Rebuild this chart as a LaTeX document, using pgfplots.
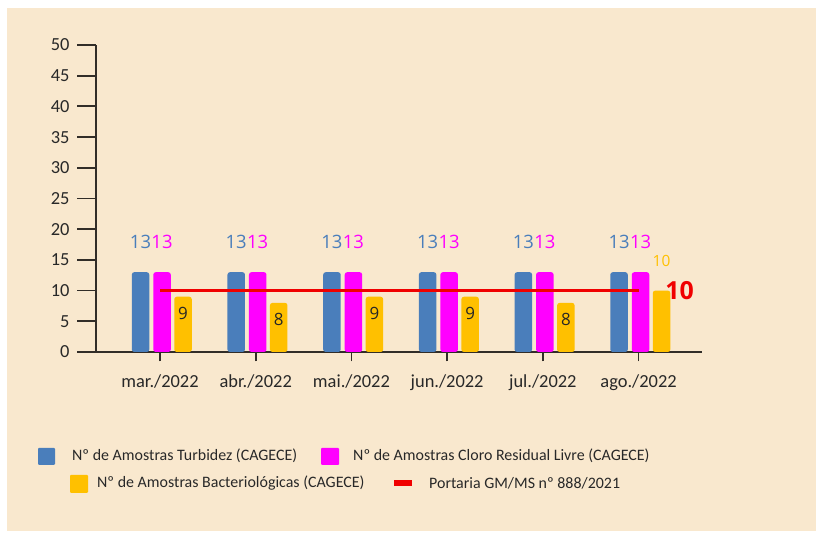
\documentclass[border=0pt]{standalone}
\usepackage{fontspec}
\setmainfont{Carlito}
\newfontfamily\opensans{Open Sans}
\usepackage{pgfplots}
\pgfplotsset{compat=1.18}
\definecolor{bg}{RGB}{249,232,206}
\definecolor{cblue}{RGB}{74,126,187}
\definecolor{cmag}{RGB}{255,0,255}
\definecolor{cyel}{RGB}{255,192,0}
\definecolor{cred}{RGB}{240,0,0}
\definecolor{axc}{RGB}{50,45,40}
\definecolor{txt}{RGB}{40,40,40}
\begin{document}
\begin{tikzpicture}[x=1bp,y=1bp]
\fill[white] (0,0) rectangle (822,535);
\fill[bg] (7,4) rectangle (816,527);
\begin{axis}[
  at={(96bp,183bp)}, anchor=south west,
  width=606bp, height=307bp, scale only axis,
  xmin=-0.669, xmax=5.663, ymin=0, ymax=50,
  axis x line=bottom, axis y line=left,
  axis line style={axc, line width=2bp, -},
  every tick/.style={axc, line width=1.8bp},
  major tick length=19bp,
  xtick align=center, ytick align=outside,
  xtick={0,...,5},
  xticklabels={mar./2022, abr./2022, mai./2022, jun./2022, jul./2022, ago./2022},
  ytick={0,5,...,50},
  /pgf/number format/assume math mode=true,
  yticklabel style={font=\fontsize{18.5}{20}\selectfont, text=txt, xshift=-4bp},
  xticklabel style={font=\fontsize{18.5}{20}\selectfont, text=txt, yshift=-10bp},
  clip=false,
]
% Turbidez
\addplot[ybar, bar width=17.5bp, bar shift=-19.5bp, fill=cblue, draw=none, rounded corners=2.5bp,
  nodes near coords,
  every node near coord/.append style={anchor=center, xshift=-19.5bp, yshift=30bp, text=cblue, font=\opensans\fontsize{18.5}{18.5}\selectfont}]
  coordinates {(0,13) (1,13) (2,13) (3,13) (4,13) (5,13)};
% Cloro
\addplot[ybar, bar width=17.5bp, bar shift=2bp, fill=cmag, draw=none, rounded corners=2.5bp,
  nodes near coords,
  every node near coord/.append style={anchor=center, xshift=2bp, yshift=30bp, text=cmag, font=\opensans\fontsize{18.5}{18.5}\selectfont}]
  coordinates {(0,13) (1,13) (2,13) (3,13) (4,13) (5,13)};
% Bacteriologicas
\addplot[ybar, bar width=17.5bp, bar shift=23bp, fill=cyel, draw=none, rounded corners=2.5bp,
  nodes near coords,
  every node near coord/.append style={anchor=center, xshift=23bp, yshift=-17bp, text=black!85, font=\opensans\fontsize{17}{17}\selectfont}]
  coordinates {(0,9) (1,8) (2,9) (3,9) (4,8)};
\addplot[ybar, bar width=17.5bp, bar shift=23bp, fill=cyel, draw=none, rounded corners=2.5bp,
  nodes near coords,
  every node near coord/.append style={anchor=center, xshift=23bp, yshift=29.5bp, text=cyel, font=\opensans\fontsize{15.5}{15.5}\selectfont}]
  coordinates {(5,10)};
% Portaria
\addplot[cred, line width=3bp, mark=none] coordinates {(0,10) (5,10)}
  node[pos=1, anchor=west, xshift=22bp, text=cred, font=\opensans\bfseries\fontsize{25}{25}\selectfont] {10};
\end{axis}
% legend
\begin{scope}[every node/.style={anchor=west, inner sep=0pt, text=txt, font=\fontsize{16}{17}\selectfont}]
\fill[cblue, rounded corners=1bp] (38,70) rectangle (55,87);
\node at (72,79) {Nº de Amostras Turbidez (CAGECE)};
\fill[cmag, rounded corners=1bp] (321,70) rectangle (339,87);
\node at (353,79) {Nº de Amostras Cloro Residual Livre (CAGECE)};
\fill[cyel, rounded corners=1bp] (70,42) rectangle (88,60);
\node at (97,52) {Nº de Amostras Bacteriológicas (CAGECE)};
\fill[cred] (394,49) rectangle (412,55);
\node at (429,52) {Portaria GM/MS nº 888/2021};
\end{scope}
\end{tikzpicture}
\end{document}
